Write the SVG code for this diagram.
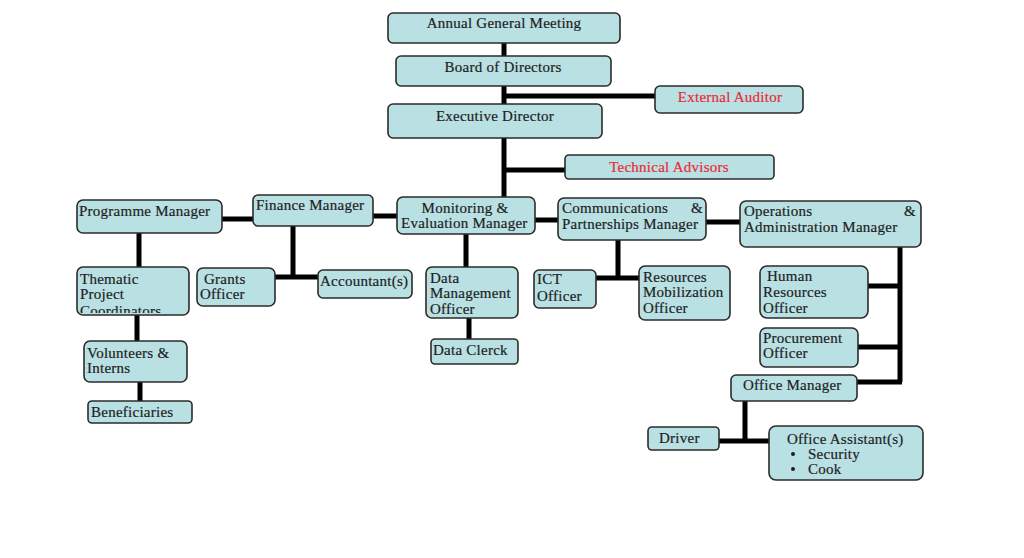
<svg xmlns="http://www.w3.org/2000/svg" width="1024" height="558" viewBox="0 0 1024 558">
<style>
.box{fill:#b9e0e3;stroke:#2b2b2b;stroke-width:1.6}
.t{font-family:"Liberation Serif","Times New Roman",serif;font-size:15px;fill:#1e1e1e;letter-spacing:0.25px;stroke:#1e1e1e;stroke-width:0.2}
.c{text-anchor:middle}
.red{fill:#ea2a36;stroke:#ea2a36}
.ln{stroke:#000;stroke-width:5;fill:none}
</style>
<defs>
<clipPath id="clipTh"><rect x="77" y="267" width="112" height="46"/></clipPath>
</defs>
<rect width="1024" height="558" fill="#fff"/>
<g id="connectors">
<path class="ln" d="M504 43V56M504 86V104M504 96H655M504 138V197M504 170H565"/>
<path class="ln" d="M373 216H397M222 219H253M535 220H558M706 222H740"/>
<path class="ln" d="M139 233V267M137 315V341M140 382V401"/>
<path class="ln" d="M293 226V277M275 277H318"/>
<path class="ln" d="M466 234V267M469 318V339"/>
<path class="ln" d="M618 240V278M596 278H639"/>
<path class="ln" d="M900 247V382M868 286H900M858 347H900M857 382H902"/>
<path class="ln" d="M745 401V441M719 441H769"/>
</g>
<g id="agm"><rect class="box" x="388" y="13" width="232" height="30" rx="5"/><text class="t c" x="504" y="28">Annual General Meeting</text></g>
<g id="board"><rect class="box" x="396" y="56" width="215" height="30" rx="5"/><text class="t c" x="503" y="72">Board of Directors</text></g>
<g id="auditor"><rect class="box" x="655" y="86" width="148" height="27" rx="5"/><text class="t c red" x="730" y="102">External Auditor</text></g>
<g id="ed"><rect class="box" x="388" y="104" width="214" height="34" rx="5"/><text class="t c" x="495" y="121">Executive Director</text></g>
<g id="advisors"><rect class="box" x="565" y="155" width="209" height="24" rx="4"/><text class="t c red" x="669" y="172">Technical Advisors</text></g>
<g id="pm"><rect class="box" x="77" y="200" width="145" height="33" rx="6"/><text class="t" x="79" y="216">Programme Manager</text></g>
<g id="fm"><rect class="box" x="253" y="195" width="120" height="31" rx="5"/><text class="t" x="256" y="210">Finance Manager</text></g>
<g id="me"><rect class="box" x="397" y="197" width="138" height="37" rx="6"/><text class="t c" x="465" y="213">Monitoring &amp;</text><text class="t" x="401" y="228">Evaluation Manager</text></g>
<g id="comms"><rect class="box" x="558" y="198" width="148" height="42" rx="6"/><text class="t" x="562" y="213">Communications</text><text class="t" x="691" y="213">&amp;</text><text class="t" x="562" y="229">Partnerships Manager</text></g>
<g id="ops"><rect class="box" x="740" y="201" width="181" height="46" rx="6"/><text class="t" x="744" y="216">Operations</text><text class="t" x="904" y="216">&amp;</text><text class="t" x="744" y="232">Administration Manager</text></g>
<g id="thematic"><rect class="box" x="77" y="267" width="112" height="48" rx="6"/><g clip-path="url(#clipTh)"><text class="t" x="80" y="284">Thematic</text><text class="t" x="80" y="299">Project</text><text class="t" x="80" y="316">Coordinators</text></g></g>
<g id="grants"><rect class="box" x="197" y="268" width="78" height="38" rx="6"/><text class="t" x="204" y="284">Grants</text><text class="t" x="200" y="299">Officer</text></g>
<g id="accountant"><rect class="box" x="318" y="270" width="94" height="28" rx="5"/><text class="t" x="320" y="286">Accountant(s)</text></g>
<g id="volunteers"><rect class="box" x="84" y="341" width="103" height="41" rx="6"/><text class="t" x="87" y="358">Volunteers &amp;</text><text class="t" x="87" y="373">Interns</text></g>
<g id="beneficiaries"><rect class="box" x="88" y="401" width="104" height="22" rx="4"/><text class="t" x="91" y="417">Beneficiaries</text></g>
<g id="dmo"><rect class="box" x="426" y="267" width="92" height="51" rx="6"/><text class="t" x="430" y="283">Data</text><text class="t" x="430" y="298">Management</text><text class="t" x="430" y="314">Officer</text></g>
<g id="clerk"><rect class="box" x="431" y="339" width="87" height="25" rx="4"/><text class="t" x="433" y="355">Data Clerck</text></g>
<g id="ict"><rect class="box" x="534" y="270" width="62" height="38" rx="5"/><text class="t" x="537" y="284">ICT</text><text class="t" x="537" y="301">Officer</text></g>
<g id="rmo"><rect class="box" x="639" y="266" width="91" height="54" rx="6"/><text class="t" x="643" y="282">Resources</text><text class="t" x="643" y="297">Mobilization</text><text class="t" x="643" y="313">Officer</text></g>
<g id="hr"><rect class="box" x="760" y="266" width="108" height="52" rx="7"/><text class="t" x="767" y="281">Human</text><text class="t" x="763" y="297">Resources</text><text class="t" x="763" y="313">Officer</text></g>
<g id="procurement"><rect class="box" x="760" y="328" width="98" height="39" rx="6"/><text class="t" x="763" y="343">Procurement</text><text class="t" x="763" y="358">Officer</text></g>
<g id="officemgr"><rect class="box" x="731" y="375" width="126" height="26" rx="5"/><text class="t" x="743" y="390">Office Manager</text></g>
<g id="driver"><rect class="box" x="648" y="427" width="71" height="23" rx="4"/><text class="t" x="659" y="443">Driver</text></g>
<g id="assistant"><rect class="box" x="769" y="426" width="154" height="54" rx="7"/><text class="t" x="787" y="444">Office Assistant(s)</text><circle cx="793" cy="454" r="2" fill="#1e1e1e"/><text class="t" x="808" y="459">Security</text><circle cx="793" cy="469" r="2" fill="#1e1e1e"/><text class="t" x="808" y="474">Cook</text></g>
</svg>
